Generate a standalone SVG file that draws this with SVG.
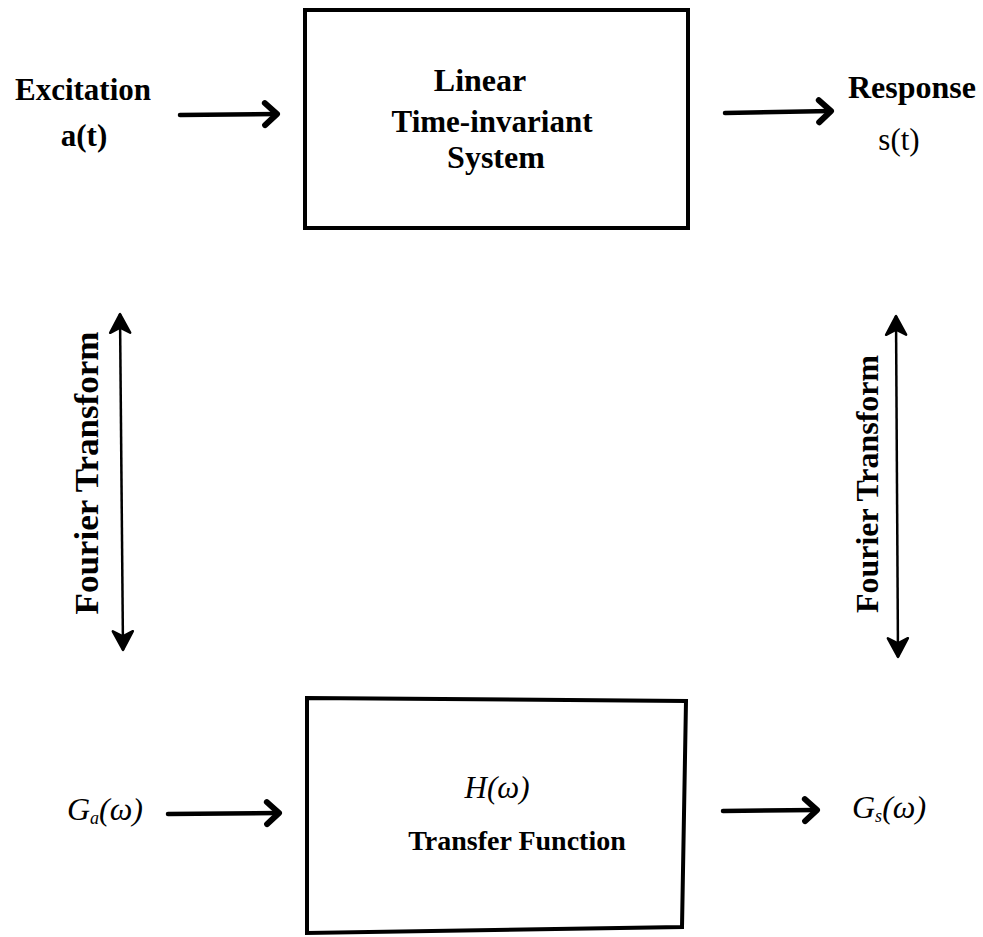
<svg xmlns="http://www.w3.org/2000/svg" width="983" height="937" viewBox="0 0 983 937">
  <style>
    .lbl { font-family: "Liberation Serif", "Times New Roman", serif; font-weight: bold; fill: #000; }
    .reg { font-family: "Liberation Serif", "Times New Roman", serif; fill: #000; }
    .math { font-family: "Liberation Serif", "Times New Roman", serif; font-style: italic; fill: #000; }
    .box { fill: none; stroke: #000; stroke-width: 4; stroke-linejoin: miter; }
    .flow { fill: none; stroke: #000; stroke-width: 4.5; stroke-linecap: round; }
    .ft { fill: none; stroke: #000; stroke-width: 2.5; }
  </style>
  <defs>
    <marker id="chev" markerUnits="userSpaceOnUse" markerWidth="30" markerHeight="30" viewBox="-16 -15 20 30" refX="0" refY="0" orient="auto">
      <path d="M-12,-11 L0,0 L-12,11" fill="none" stroke="#000" stroke-width="6" stroke-linecap="round" stroke-linejoin="round"/>
    </marker>
    <marker id="tip" markerUnits="userSpaceOnUse" markerWidth="30" markerHeight="30" viewBox="-18 -12 22 24" refX="0" refY="0" orient="auto-start-reverse">
      <path d="M0,0 L-15,-8 L-11,0 L-15,8 Z" fill="#000" stroke="#000" stroke-width="2" stroke-linejoin="round"/>
    </marker>
  </defs>

  <!-- time-domain system block -->
  <g id="lti-system">
    <rect class="box" x="305" y="10" width="383" height="218"/>
    <text class="lbl" font-size="32" x="480" y="91" text-anchor="middle">Linear</text>
    <text class="lbl" font-size="31" x="492" y="132" text-anchor="middle">Time-invariant</text>
    <text class="lbl" font-size="32" x="496" y="168" text-anchor="middle">System</text>
  </g>

  <!-- frequency-domain block -->
  <g id="transfer-function">
    <path class="box" d="M307,698 L686,701 L682,927 L307,933 Z"/>
    <text class="math" font-size="31" x="497" y="798" text-anchor="middle">H(ω)</text>
    <text class="lbl" font-size="28" x="517" y="850" text-anchor="middle">Transfer Function</text>
  </g>

  <g id="excitation">
    <text class="lbl" font-size="31" x="83" y="100" text-anchor="middle">Excitation</text>
    <text class="lbl" font-size="31" x="84" y="146" text-anchor="middle">a(t)</text>
  </g>

  <g id="response">
    <text class="lbl" font-size="32" x="912" y="98" text-anchor="middle">Response</text>
    <text class="reg" font-size="31" x="899" y="150" text-anchor="middle">s(t)</text>
  </g>

  <g id="input-spectrum">
    <text class="math" font-size="32" x="67" y="820">G<tspan font-size="18" dy="4">a</tspan><tspan dy="-4">(ω)</tspan></text>
  </g>

  <g id="output-spectrum">
    <text class="math" font-size="32" x="852" y="818">G<tspan font-size="18" dy="4">s</tspan><tspan dy="-4">(ω)</tspan></text>
  </g>

  <g id="fourier-left">
    <text class="lbl" font-size="33" text-anchor="middle" transform="translate(98,473) rotate(-90)" textLength="283" lengthAdjust="spacingAndGlyphs">Fourier Transform</text>
  </g>

  <g id="fourier-right">
    <text class="lbl" font-size="31" text-anchor="middle" transform="translate(878,484) rotate(-90)" textLength="258" lengthAdjust="spacingAndGlyphs">Fourier Transform</text>
  </g>

  <!-- connectors -->
  <g id="connectors">
    <line class="flow" x1="180" y1="115" x2="277" y2="114" marker-end="url(#chev)"/>
    <line class="flow" x1="725" y1="113" x2="831" y2="111" marker-end="url(#chev)"/>
    <line class="flow" x1="168" y1="814" x2="279" y2="813" marker-end="url(#chev)"/>
    <line class="flow" x1="723" y1="811" x2="817" y2="810" marker-end="url(#chev)"/>
    <line class="ft" x1="120" y1="314" x2="123" y2="650" marker-start="url(#tip)" marker-end="url(#tip)"/>
    <line class="ft" x1="896" y1="316" x2="898" y2="657" marker-start="url(#tip)" marker-end="url(#tip)"/>
  </g>
</svg>
